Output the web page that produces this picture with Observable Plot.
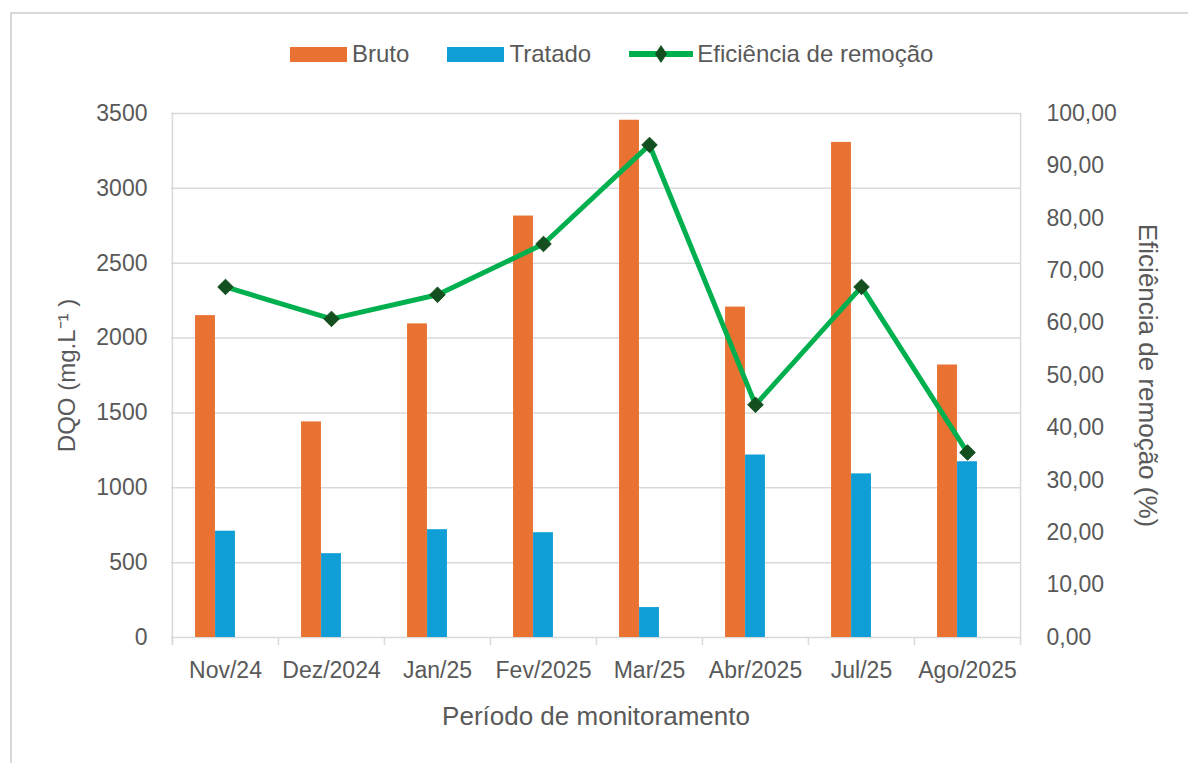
<!DOCTYPE html>
<html>
<head>
<meta charset="utf-8">
<script src="https://cdn.jsdelivr.net/npm/d3@7"></script>
<script src="https://cdn.jsdelivr.net/npm/@observablehq/plot@0.6"></script>
<style>
  html, body { margin: 0; padding: 0; background: #fff; overflow: hidden; }
  body { width: 1188px; height: 763px; position: relative; font-family: "Liberation Sans", Arial, sans-serif; color: #595959; }
  #frame { position: absolute; left: 10px; top: 12px; width: 1200px; height: 800px; border: 2px solid #d9d9d9; box-sizing: border-box; }
  #chart { position: absolute; left: 0; top: 0; }
  #legend { position: absolute; left: 290px; top: 40px; display: flex; align-items: center; font-size: 24px; color: #595959; white-space: nowrap; }
  .sw { width: 57px; height: 15px; display: inline-block; margin-right: 5px; }
  .item { display: flex; align-items: center; margin-right: 38px; }
</style>
</head>
<body>
<div id="frame"></div>
<div id="chart"></div>
<div id="legend"></div>
<script>
const categories = ["Nov/24", "Dez/2024", "Jan/25", "Fev/2025", "Mar/25", "Abr/2025", "Jul/25", "Ago/2025"];
const bruto = [2150, 1440, 2095, 2815, 3455, 2207, 3307, 1820];
const tratado = [710, 560, 720, 700, 200, 1219, 1093, 1174];
const eficiencia = [66.9, 60.8, 65.4, 75.1, 94.0, 44.4, 66.9, 35.3];
const leftTicks = [0, 500, 1000, 1500, 2000, 2500, 3000, 3500];
const rightTicks = [0, 10, 20, 30, 40, 50, 60, 70, 80, 90, 100];
const seriesNames = ["Bruto", "Tratado", "Eficiência de remoção"];
const seriesColors = ["#E97132", "#0F9ED5", "#00B04F"];
const markerColor = "#134F1F";

const W = 1188, H = 763;
const mL = 171, mR = 168, mT = 113, mB = 126;
const bw = (W - mL - mR) / categories.length;
const plotH = H - mT - mB;
const ratio = 3500 / 100;

const rows = categories.map((c, i) => ({cat: c, bruto: bruto[i], tratado: tratado[i], ef: eficiencia[i] * ratio}));
const fmtRight = d => (d / ratio).toFixed(2).replace(".", ",");

const chart = Plot.plot({
  width: W, height: H,
  marginLeft: mL, marginRight: mR, marginTop: mT, marginBottom: mB,
  style: {fontFamily: "'Liberation Sans', Arial, sans-serif", color: "#595959", background: "transparent"},
  x: {type: "band", domain: categories, padding: 0, axis: null},
  y: {domain: [0, 3500], axis: null},
  marks: [
    Plot.gridY(leftTicks, {stroke: "#d9d9d9", strokeOpacity: 1, strokeWidth: 1.5}),
    Plot.ruleX(categories, {x: d => d, dx: -bw / 2, stroke: "#d9d9d9", strokeWidth: 1.5, insetTop: plotH, insetBottom: -8}),
    Plot.ruleX([categories[0]], {x: d => d, dx: -bw / 2, stroke: "#d9d9d9", strokeWidth: 1.5, insetBottom: -8}),
    Plot.ruleX([categories[categories.length - 1]], {x: d => d, dx: bw / 2, stroke: "#d9d9d9", strokeWidth: 1.5, insetBottom: -8}),
    Plot.barY(rows, {x: "cat", y: "bruto", fill: seriesColors[0], insetLeft: bw / 2 - 30, insetRight: bw / 2 + 10}),
    Plot.barY(rows, {x: "cat", y: "tratado", fill: seriesColors[1], insetLeft: bw / 2 - 10, insetRight: bw / 2 - 10}),
    Plot.line(rows, {x: "cat", y: "ef", stroke: seriesColors[2], strokeWidth: 5, strokeLinejoin: "miter", strokeLinecap: "butt"}),
    Plot.dot(rows, {x: "cat", y: "ef", symbol: "diamond2", r: 7, fill: markerColor, stroke: markerColor, strokeWidth: 1}),
    Plot.axisY(leftTicks, {anchor: "left", tickSize: 0, tickPadding: 24, fontSize: 23, label: null, tickFormat: d => String(d)}),
    Plot.axisY(rightTicks.map(v => v * ratio), {anchor: "right", tickSize: 0, tickPadding: 26, fontSize: 23, label: null, tickFormat: fmtRight}),
    Plot.axisX(categories, {anchor: "bottom", tickSize: 0, tickPadding: 24, fontSize: 23, label: null}),
    Plot.text(["DQO (mg.L⁻¹ )"], {frameAnchor: "left", dx: -104, rotate: -90, textAnchor: "middle", lineAnchor: "middle", fontSize: 24, fill: "#595959"}),
    Plot.text(["Eficiência de remoção (%)"], {frameAnchor: "right", dx: 127, rotate: 90, textAnchor: "middle", lineAnchor: "middle", fontSize: 26, fill: "#595959"}),
    Plot.text(["Período de monitoramento"], {frameAnchor: "bottom", dy: 79, textAnchor: "middle", lineAnchor: "middle", fontSize: 26, fill: "#595959"})
  ]
});
document.getElementById("chart").appendChild(chart);

// Legend (HTML)
const legend = document.getElementById("legend");
seriesNames.forEach((name, i) => {
  const item = document.createElement("div");
  item.className = "item";
  if (i < 2) {
    const sw = document.createElement("span");
    sw.className = "sw";
    sw.style.background = seriesColors[i];
    item.appendChild(sw);
  } else {
    const ns = "http://www.w3.org/2000/svg";
    const svg = document.createElementNS(ns, "svg");
    svg.setAttribute("width", "64"); svg.setAttribute("height", "20");
    svg.style.marginRight = "4px";
    const ln = document.createElementNS(ns, "line");
    ln.setAttribute("x1", "0"); ln.setAttribute("x2", "64"); ln.setAttribute("y1", "10"); ln.setAttribute("y2", "10");
    ln.setAttribute("stroke", seriesColors[2]); ln.setAttribute("stroke-width", "6");
    svg.appendChild(ln);
    const dm = document.createElementNS(ns, "path");
    dm.setAttribute("d", "M32,1 L38,10 L32,19 L26,10 Z");
    dm.setAttribute("fill", markerColor);
    svg.appendChild(dm);
    item.appendChild(svg);
  }
  const t = document.createElement("span");
  t.textContent = name;
  item.appendChild(t);
  legend.appendChild(item);
});
</script>
</body>
</html>
